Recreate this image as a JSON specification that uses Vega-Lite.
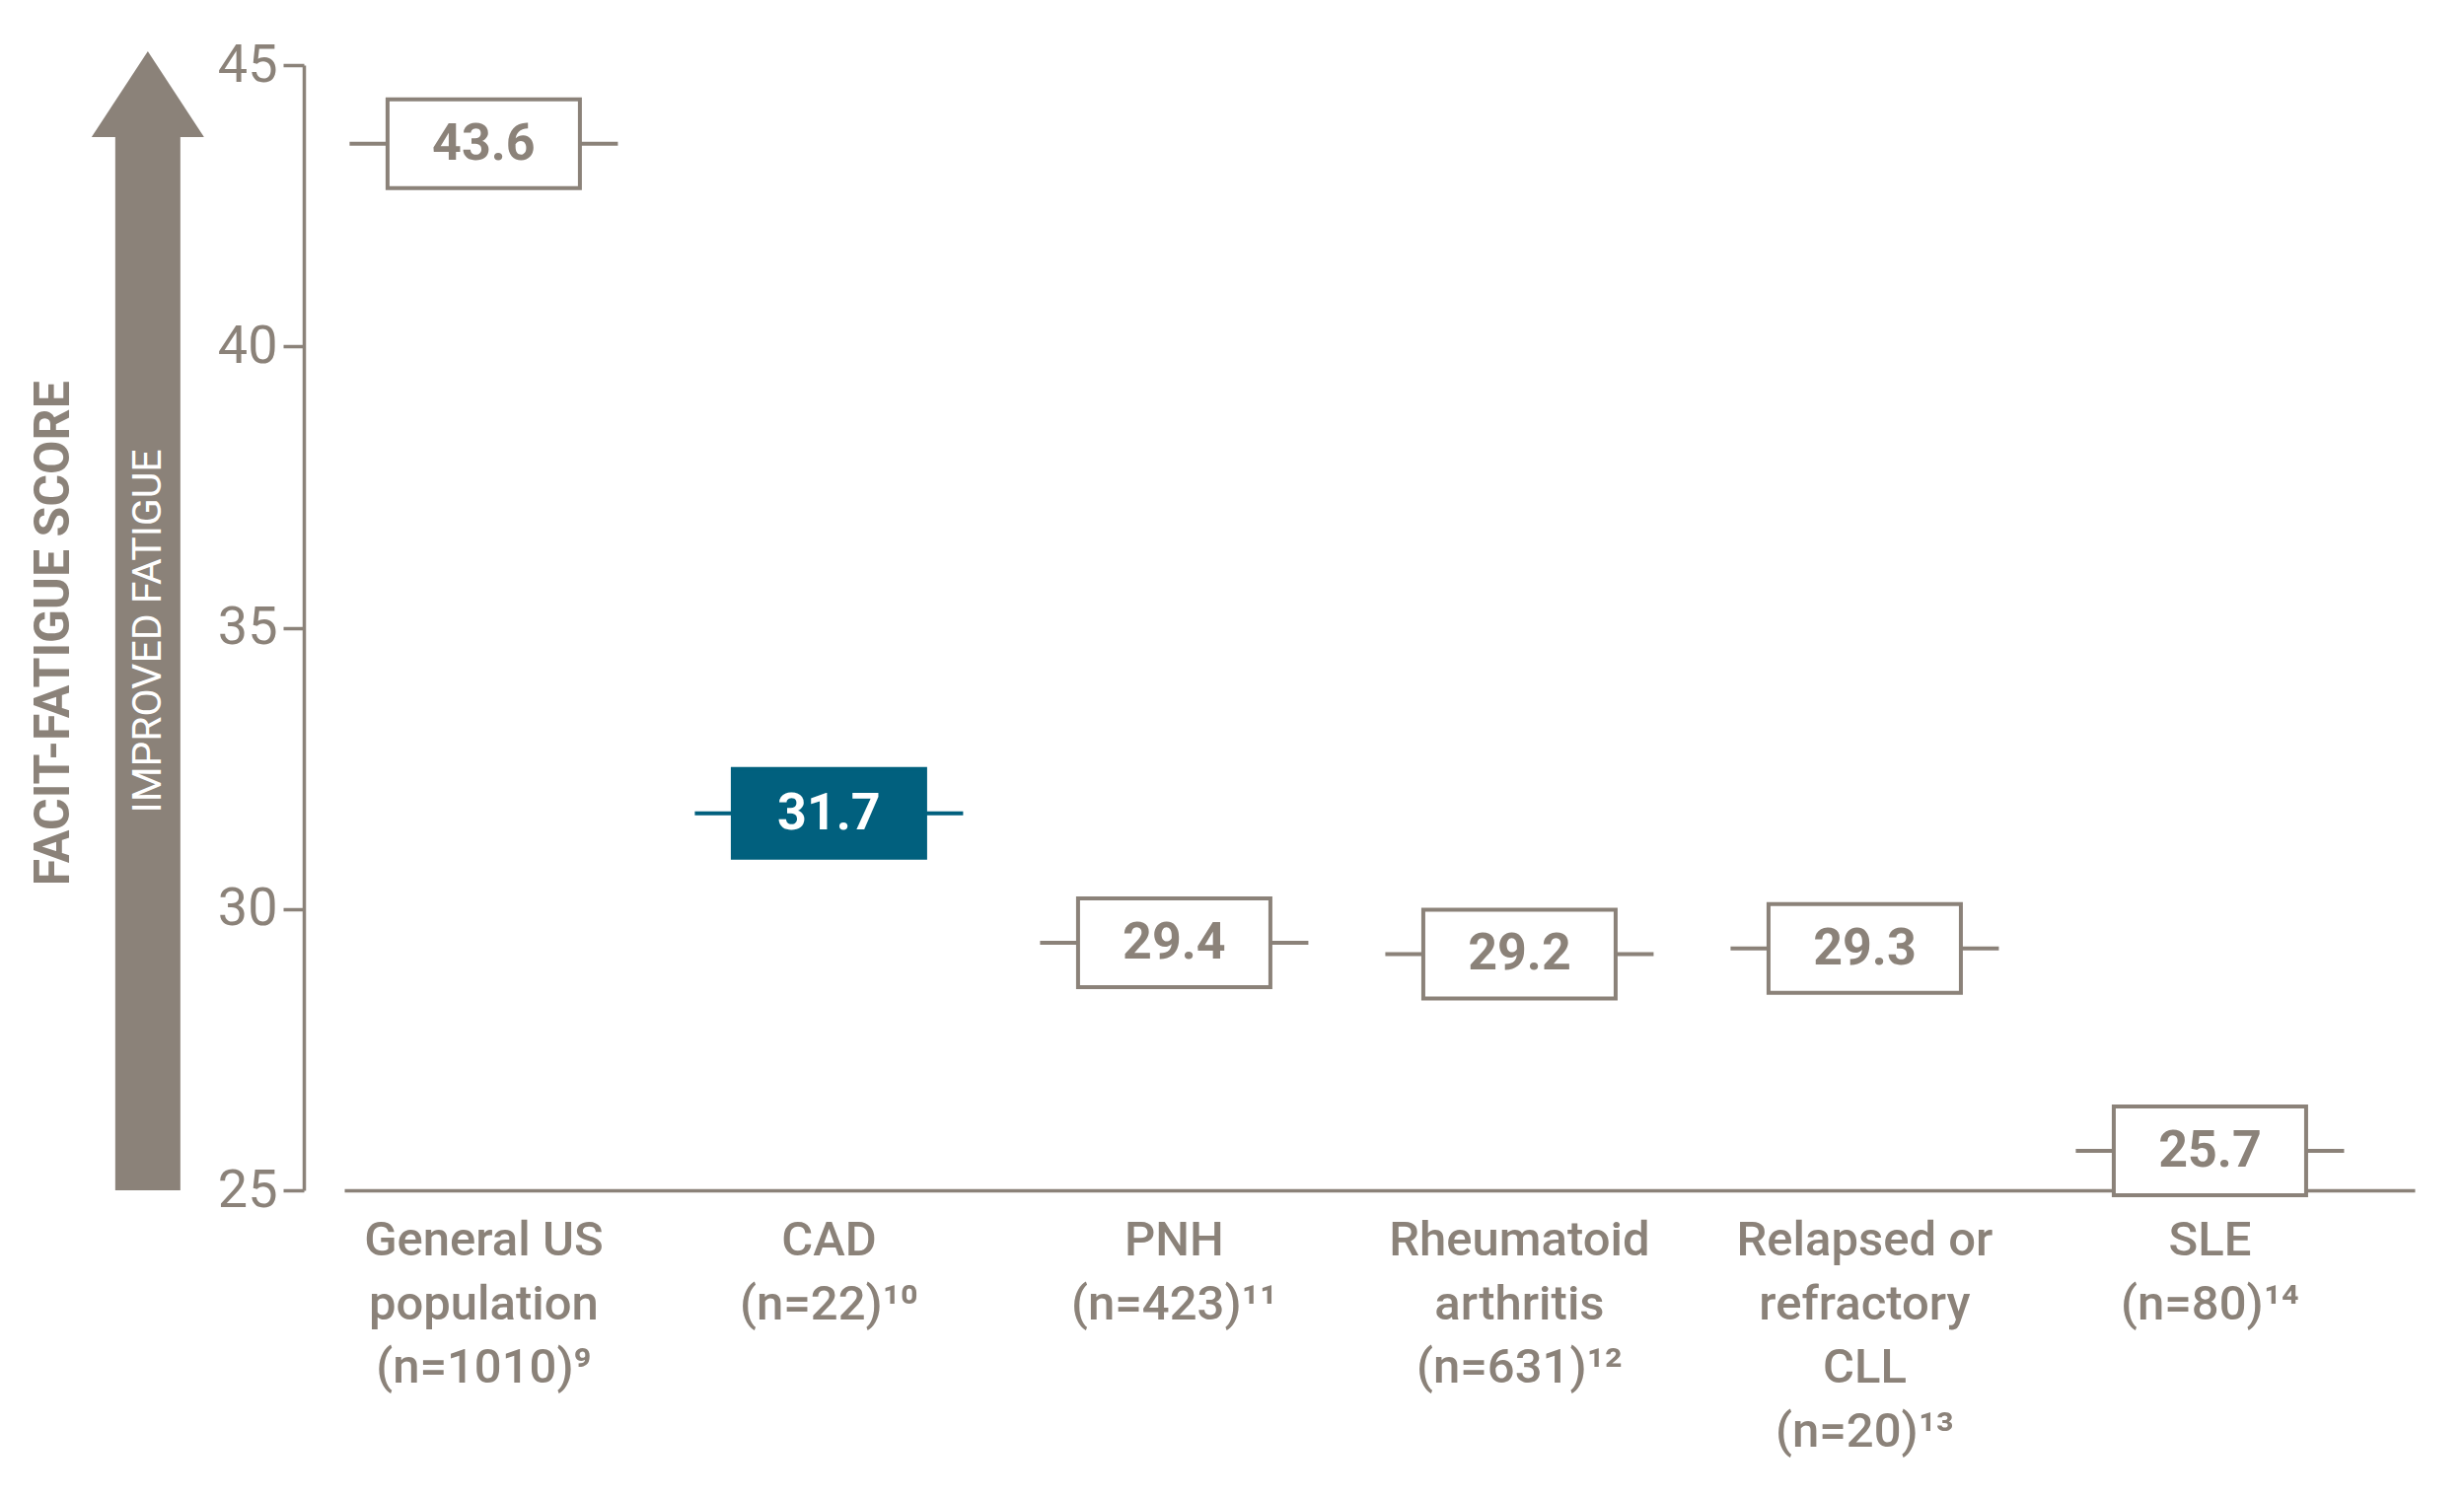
{
  "$schema": "https://vega.github.io/schema/vega-lite/v6.json",
  "width": 2099,
  "height": 1141,
  "autosize": {"type": "none"},
  "padding": {"left": 349, "top": 66, "right": 50, "bottom": 311},
  "background": "white",
  "config": {"view": {"stroke": null}, "font": "Roboto"},
  "datasets": {
    "scores": [
      {"idx": 0, "label": "General US|population|(n=1010)⁹", "score": 43.6, "group": "other"},
      {"idx": 1, "label": "CAD|(n=22)¹⁰", "score": 31.7, "group": "CAD"},
      {"idx": 2, "label": "PNH|(n=423)¹¹", "score": 29.4, "group": "other"},
      {"idx": 3, "label": "Rheumatoid|arthritis|(n=631)¹²", "score": 29.2, "group": "other"},
      {"idx": 4, "label": "Relapsed or|refractory|CLL|(n=20)¹³", "score": 29.3, "group": "other"},
      {"idx": 5, "label": "SLE|(n=80)¹⁴", "score": 25.7, "group": "other"}
    ],
    "arrow": [
      {"idx": -0.973, "score": 25, "top": 43.75, "head": 44.483}
    ],
    "titles": [
      {"idx": -0.970, "score": 34.94, "txt": "IMPROVED FATIGUE", "kind": "arrow"},
      {"idx": -1.245, "score": 34.9, "txt": "FACIT-FATIGUE SCORE", "kind": "axis"}
    ]
  },
  "data": {"name": "scores"},
  "encoding": {
    "x": {
      "field": "idx",
      "type": "quantitative",
      "scale": {"domain": [-0.404, 5.593], "nice": false, "zero": false},
      "axis": {
        "title": null,
        "labels": false,
        "ticks": false,
        "grid": false,
        "domainColor": "#8b8279",
        "domainWidth": 3.5
      }
    },
    "y": {
      "field": "score",
      "type": "quantitative",
      "scale": {"domain": [25, 45], "nice": false, "zero": false},
      "axis": {
        "title": null,
        "values": [25, 30, 35, 40, 45],
        "grid": false,
        "offset": 41,
        "domainColor": "#8b8279",
        "domainWidth": 3.5,
        "tickColor": "#8b8279",
        "tickWidth": 3.5,
        "tickSize": 21,
        "labelColor": "#8b8279",
        "labelFont": "Roboto",
        "labelFontSize": 54,
        "labelPadding": 6
      }
    }
  },
  "layer": [
    {
      "data": {"name": "arrow"},
      "mark": {"type": "rule", "strokeWidth": 66, "color": "#8b8279", "strokeCap": "butt"},
      "encoding": {
        "y2": {"field": "top"}
      }
    },
    {
      "data": {"name": "arrow"},
      "mark": {
        "type": "point",
        "shape": "M-1,0.763L0,-0.763L1,0.763Z",
        "size": 12996,
        "filled": true,
        "opacity": 1,
        "color": "#8b8279"
      },
      "encoding": {
        "y": {"field": "head", "type": "quantitative"}
      }
    },
    {
      "data": {"name": "titles"},
      "transform": [{"filter": "datum.kind == 'arrow'"}],
      "mark": {
        "type": "text",
        "angle": 270,
        "align": "center",
        "baseline": "middle",
        "fontSize": 41,
        "color": "#ffffff"
      },
      "encoding": {
        "text": {"field": "txt", "type": "nominal"}
      }
    },
    {
      "data": {"name": "titles"},
      "transform": [{"filter": "datum.kind == 'axis'"}],
      "mark": {
        "type": "text",
        "angle": 270,
        "align": "center",
        "baseline": "middle",
        "fontSize": 50,
        "fontWeight": "bold",
        "color": "#8b8279"
      },
      "encoding": {
        "text": {"field": "txt", "type": "nominal"}
      }
    },
    {
      "mark": {
        "type": "point",
        "shape": "M-1,0L1,0",
        "size": 73984,
        "filled": false,
        "opacity": 1,
        "strokeWidth": 4
      },
      "encoding": {
        "stroke": {
          "field": "group",
          "type": "nominal",
          "scale": {"domain": ["other", "CAD"], "range": ["#8b8279", "#01607e"]},
          "legend": null
        }
      }
    },
    {
      "mark": {
        "type": "point",
        "shape": "M-1,-0.4615L1,-0.4615L1,0.4615L-1,0.4615Z",
        "size": 38025,
        "opacity": 1,
        "strokeWidth": 4
      },
      "encoding": {
        "fill": {
          "field": "group",
          "type": "nominal",
          "scale": {"domain": ["other", "CAD"], "range": ["#ffffff", "#01607e"]},
          "legend": null
        },
        "stroke": {
          "field": "group",
          "type": "nominal",
          "scale": {"domain": ["other", "CAD"], "range": ["#8b8279", "#01607e"]},
          "legend": null
        }
      }
    },
    {
      "mark": {
        "type": "text",
        "align": "center",
        "baseline": "middle",
        "fontSize": 52,
        "fontWeight": "bold"
      },
      "encoding": {
        "text": {"field": "score", "type": "quantitative", "format": ".1f"},
        "color": {
          "field": "group",
          "type": "nominal",
          "scale": {"domain": ["other", "CAD"], "range": ["#8b8279", "#ffffff"]},
          "legend": null
        }
      }
    },
    {
      "mark": {
        "type": "text",
        "align": "center",
        "baseline": "alphabetic",
        "fontSize": 49,
        "fontWeight": 500,
        "lineBreak": "|",
        "lineHeight": 64.5,
        "dy": 66,
        "color": "#8b8279"
      },
      "encoding": {
        "y": {"datum": 25},
        "text": {"field": "label", "type": "nominal"}
      }
    }
  ]
}
